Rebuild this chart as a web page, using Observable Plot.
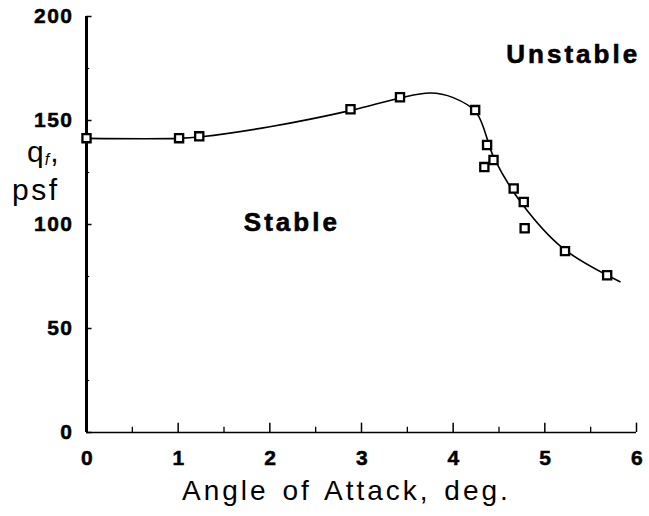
<!DOCTYPE html>
<html>
<head>
<meta charset="utf-8">
<script src="https://cdn.jsdelivr.net/npm/d3@7"></script>
<script src="https://cdn.jsdelivr.net/npm/@observablehq/plot@0.6"></script>
<style>
  html, body { margin: 0; padding: 0; background: #fff; }
  #wrap { position: relative; width: 649px; height: 516px; font-family: "Liberation Sans", Arial, sans-serif; color: #000; }
  .lab { position: absolute; white-space: nowrap; line-height: 1; }
</style>
</head>
<body>
<div id="wrap">
  <div id="chart"></div>
  <div class="lab" style="left:27px; top:137px; font-size:30px; letter-spacing:1px;">q<span style="font-size:16px; font-style:italic; position:relative; top:3px;">f</span>,</div>
  <div class="lab" style="left:12px; top:175px; font-size:30px; letter-spacing:2.5px;">psf</div>
  <div class="lab" style="left:182px; top:477px; font-size:28px; letter-spacing:3px; word-spacing:3px;">Angle of Attack, deg.</div>
</div>
<script>
// Measured data points (angle of attack, deg; flutter dynamic pressure q_f, psf)
const angle = [0, 1.01, 1.23, 2.88, 3.42, 4.24, 4.37, 4.44, 4.34, 4.66, 4.77, 4.78, 5.22, 5.68];
const qf    = [141.5, 141.5, 142.4, 155.4, 161.2, 155.0, 138.2, 131.0, 127.6, 117.3, 110.8, 98.2, 87.2, 75.6];

// Faired boundary curve
const curveAngle = [0, 1, 1.25, 2, 2.9, 3.4, 3.75, 4.0, 4.25, 4.45, 4.75, 5.2, 5.82];
const curveQ     = [141.4, 141.4, 142.2, 147, 155, 160.6, 163.2, 161, 154, 131.5, 110, 88.5, 72.5];

// Axis ticks
const xTicks = [0, 1, 2, 3, 4, 5, 6];
const xMinor = [0.5, 1.5, 2.5, 3.5, 4.5, 5.5];
const yTicks = [0, 50, 100, 150, 200];
const yMinor = [25, 75, 125, 175];

// Region annotations
const regionLabel = ["Stable", "Unstable"];
const regionX = [2.24, 5.31];
const regionY = [101, 181.5];

const points = angle.map((a, i) => ({a, q: qf[i]}));
const curve = curveAngle.map((a, i) => ({a, q: curveQ[i]}));
const regions = regionLabel.map((t, i) => ({t, a: regionX[i], q: regionY[i]}));

const font = "Liberation Sans, Arial, sans-serif";

const chart = Plot.plot({
  width: 649,
  height: 516,
  marginLeft: 86,
  marginRight: 13,
  marginTop: 16,
  marginBottom: 84,
  style: {fontFamily: font, background: "#fff", color: "#000"},
  x: {domain: [0, 6]},
  y: {domain: [0, 200]},
  marks: [
    Plot.axisX({ticks: xTicks, tickSize: 0, tickPadding: 18, fontSize: 21, fontWeight: "bold", label: null, tickFormat: d => String(d), dx: 1}),
    Plot.axisY({ticks: yTicks, tickSize: 0, tickPadding: 13, fontSize: 21, fontWeight: "bold", label: null, tickFormat: d => String(d)}),
    Plot.ruleX([0], {y1: 0, y2: 200, stroke: "#000", strokeWidth: 3}),
    Plot.ruleY([0], {x1: 0, x2: 6, stroke: "#000", strokeWidth: 1.6}),
    Plot.ruleY(yTicks, {x1: 0, x2: 0.06, stroke: "#000", strokeWidth: 1.5}),
    Plot.ruleY(yMinor, {x1: 0, x2: 0.035, stroke: "#000", strokeWidth: 1.2}),
    Plot.ruleX(xTicks.slice(1), {y1: 0, y2: 4.5, stroke: "#000", strokeWidth: 1.5}),
    Plot.ruleX(xMinor, {y1: 0, y2: 2.5, stroke: "#000", strokeWidth: 1.3}),
    Plot.line(curve, {x: "a", y: "q", curve: "catmull-rom", stroke: "#000", strokeWidth: 1.6}),
    Plot.dot(points, {x: "a", y: "q", symbol: "square", r: 4.6, fill: "#fff", stroke: "#000", strokeWidth: 2.3}),
    Plot.text(regions, {x: "a", y: "q", text: "t", fontSize: 26, fontWeight: "bold", fill: "#000"})
  ]
});
// typographic touch-ups to mimic the heavy printed lettering
d3.select(chart).selectAll("text").each(function() {
  const inRegion = this.closest('g[aria-label="text"]');
  const s = this.style;
  s.stroke = "#000";
  if (inRegion) {
    s.letterSpacing = "3px";
    s.strokeWidth = "0.6px";
  } else {
    s.fontSize = "21px";
    s.fontWeight = "bold";
    s.letterSpacing = "1.5px";
    s.strokeWidth = "0.5px";
  }
});
document.getElementById("chart").appendChild(chart);
</script>
</body>
</html>
